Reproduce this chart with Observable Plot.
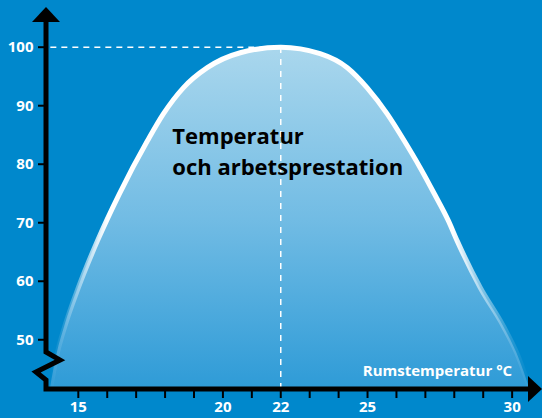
<!DOCTYPE html>
<html><head><meta charset="utf-8">
<script src="https://cdn.jsdelivr.net/npm/d3@7"></script>
<script src="https://cdn.jsdelivr.net/npm/@observablehq/plot@0.6"></script>
<style>
html,body{margin:0;padding:0;background:#0088cc;overflow:hidden;}
#chart svg{display:block}
</style></head><body><div id="chart"></div>
<script>
// Room temperature (°C) and relative work performance (%)
const temps = [14.03, 14.27, 14.52, 15.00, 15.66, 16.42, 17.39, 17.94, 18.63, 19.46, 20.60, 22.00, 23.36, 24.30, 24.99, 25.68, 26.27, 26.82, 27.31, 27.79, 28.10, 28.90, 29.69, 30.17, 30.62];
const perf  = [41.5, 47.65, 52.1, 58.9, 66.9, 74.95, 84.0, 88.6, 93.05, 96.5, 99.05, 100.0, 98.9, 96.5, 93.05, 88.6, 84.0, 79.4, 74.95, 70.4, 66.9, 58.9, 52.4, 47.65, 41.5];
const yTicks = [50, 60, 70, 80, 90, 100];
const xMinorTicks = [15, 16, 17, 18, 19, 20, 21, 22, 23, 24, 25, 26, 27, 28, 29, 30];
const xLabelTicks = [15, 20, 22, 25, 30];
const peakTemp = 22, peakPerf = 100;
const baseline = 41.5;
const xDomain = [13.9, 31.05];
const xLabel = "Rumstemperatur °C";
const titleLines = ["Temperatur", "och arbetsprestation"];

const data = temps.map((t, i) => ({t, p: perf[i]}));
const font = "'Open Sans', sans-serif";
const curve = "monotone-x";

const plot = Plot.plot({
  width: 542, height: 418,
  marginLeft: 46, marginRight: 0, marginTop: 8, marginBottom: 29,
  x: {domain: xDomain, range: [46, 542]},
  y: {domain: [baseline, 100], range: [389, 46.7]},
  style: {background: "#0088cc", fontFamily: font, overflow: "visible"},
  marks: [
    Plot.areaY(data, {x: "t", y1: baseline, y2: "p", fill: "url(#fillGrad)", curve}),
    Plot.line(data, {x: "t", y: "p", stroke: "url(#strokeGrad)", strokeWidth: 5, curve}),
    Plot.ruleY([peakPerf], {x1: xDomain[0] + 0.15, x2: peakTemp - 0.15, stroke: "white", strokeWidth: 1.5, strokeDasharray: "6,5"}),
    Plot.ruleX([peakTemp], {y1: baseline, y2: peakPerf, stroke: "white", strokeWidth: 1.5, strokeDasharray: "6,6"}),
    Plot.axisY({ticks: yTicks, tickSize: 8, tickPadding: 5, stroke: "black", strokeWidth: 2, fill: "white", fontSize: 15, fontWeight: "bold", fontFamily: font, label: null}),
    Plot.axisX({ticks: xMinorTicks, tickSize: 9, tickFormat: () => "", stroke: "black", strokeWidth: 2, label: null}),
    Plot.axisX({ticks: xLabelTicks, tickSize: 0, tickPadding: 12, fill: "white", fontSize: 15, fontWeight: "bold", fontFamily: font, label: null}),
    Plot.text([xLabel], {x: 30, y: 44.6, text: d => d, textAnchor: "end", fill: "white", fontSize: 15, fontWeight: "bold", fontFamily: font}),
    Plot.text([titleLines.join("\n")], {x: 18.25, y: 87.3, text: d => d, textAnchor: "start", lineAnchor: "top", lineHeight: 1.41, fontSize: 22, fontWeight: "bold", fontFamily: font, fill: "black"})
  ]
});

const svg = d3.select(plot);
const defs = svg.insert("defs", ":first-child");
const fg = defs.append("linearGradient").attr("id", "fillGrad").attr("x1", 0).attr("y1", 0).attr("x2", 0).attr("y2", 1);
fg.append("stop").attr("offset", 0).attr("stop-color", "#aad7ed");
fg.append("stop").attr("offset", 0.5).attr("stop-color", "#72bce4");
fg.append("stop").attr("offset", 1).attr("stop-color", "#2e9bd7");
const sg = defs.append("linearGradient").attr("id", "strokeGrad").attr("x1", 0).attr("y1", 0).attr("x2", 1).attr("y2", 0);
[[0.0, 0], [0.03, 0.15], [0.07, 0.5], [0.12, 1], [0.84, 1], [0.9, 0.5], [0.96, 0.15], [1, 0]].forEach(([o, a]) =>
  sg.append("stop").attr("offset", o).attr("stop-color", "white").attr("stop-opacity", a));

// axis frame with break and arrow heads, positioned from the scales
const xs = plot.scale("x"), ys = plot.scale("y");
const x0 = xs.apply(xDomain[0]), yb = ys.apply(baseline);
const g = svg.append("g");
g.append("path")
  .attr("d", `M${x0},20 V352 L${x0 + 14},360 L${x0 - 10},372 L${x0},380 V${yb} H530`)
  .attr("fill", "none").attr("stroke", "black").attr("stroke-width", 5).attr("stroke-linejoin", "miter");
g.append("path").attr("d", `M${x0 - 14},22 L${x0 + 14},22 L${x0},7 Z`).attr("fill", "black");
g.append("path").attr("d", `M528,376 L542,${yb} L528,402 Z`).attr("fill", "black");

document.getElementById("chart").appendChild(plot);
</script>
</body></html>
